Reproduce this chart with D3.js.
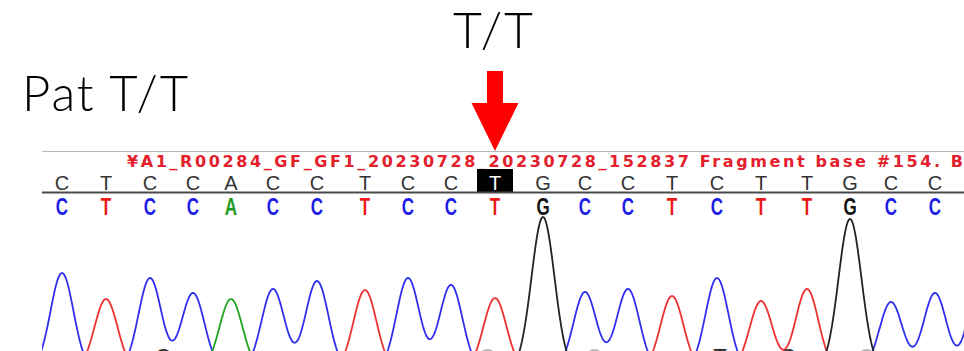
<!DOCTYPE html>
<html>
<head>
<meta charset="utf-8">
<script src="https://cdn.jsdelivr.net/npm/d3@7"></script>
<style>
  body { margin: 0; background: #fff; overflow: hidden; }
  svg { display: block; }
</style>
</head>
<body>
<svg id="chart" width="964" height="351"></svg>
<script>
// Base calls and their peak locations (scan units) with peak signal heights
const bases       = ["C","T","C","C","A","C","C","T","C","C","T","G","C","C","T","C","T","T","G","C","C","C"];
const peakScans   = [10, 32, 54, 75.5, 94.5, 115.5, 137.5, 161.5, 183, 204.5, 226.5, 250.5, 271.5, 293, 315, 337.5, 359.5, 382.5, 404, 424.5, 446.5, 469];
const peakHeights = [970, 710, 920, 770, 710, 810, 890, 800, 920, 850, 720, 1530, 780, 810, 740, 920, 690, 810, 1510, 680, 770, 880];
const variantIndex = 10;

// Calls of the following row, only their tops show at the bottom edge
const lowerScans = [60.5, 222.5, 276, 339, 373, 412];
const lowerBases = ["C", "C", "C", "T", "C", "C"];
const lowerTones = ["#333", "#bbb", "#bbb", "#222", "#333", "#bbb"];

const runTitle = "¥A1_R00284_GF_GF1_20230728_20230728_152837 Fragment base #154. Ba";
const titleFitPart = "¥A1_R00284_GF_GF1_20230728_20230728_152837 Fragment base #154.";
const sampleLabel = "Pat T/T";
const genotypeLabel = "T/T";

const traceColors = { A: "#22a322", C: "#2f2ff0", G: "#222222", T: "#ee3030" };
const callColors  = { A: "#1f9a1f", C: "#1c1ce6", G: "#111111", T: "#ee1a1a" };
const peakSigma = 5.75;

const svg = d3.select("#chart");
const W = 964, H = 351;

const x = d3.scaleLinear().domain([0, 461]).range([42, 964]);
const y = d3.scaleLinear().domain([0, 1600]).range([370, 210]);

// Panel clip
svg.append("defs").append("clipPath").attr("id", "panel")
  .append("rect").attr("x", 42).attr("y", 140).attr("width", W - 42).attr("height", H - 140);

const panel = svg.append("g").attr("clip-path", "url(#panel)");

// Frame line above the title
panel.append("line").attr("x1", 42).attr("x2", W).attr("y1", 151.5).attr("y2", 151.5)
  .attr("stroke", "#b8b8b8").attr("stroke-width", 1);

// Run title, spaced so that "#154." ends where the run info wraps
const title = panel.append("text")
  .attr("x", 127).attr("y", 166.5)
  .attr("font-family", "'DejaVu Sans', Verdana, sans-serif")
  .attr("font-weight", "bold").attr("font-size", 16)
  .attr("fill", "#e3202c")
  .text(titleFitPart);
const natural = title.node().getComputedTextLength();
const spacing = (940 - 127 - natural) / (titleFitPart.length - 1);
title.attr("letter-spacing", spacing).text(runTitle);

// Highlight of the variant call
const vx = x(peakScans[variantIndex]);
panel.append("rect").attr("x", vx - 18).attr("y", 169).attr("width", 36).attr("height", 24).attr("fill", "#000");

// Only calls that fall inside the panel get a letter
const shown = bases.map((b, i) => ({ b, i })).filter(d => x(peakScans[d.i]) < W - 6);

// Reference calls row
panel.append("g").selectAll("text").data(shown).join("text")
  .attr("x", d => x(peakScans[d.i]))
  .attr("y", 190)
  .attr("text-anchor", "middle")
  .attr("font-family", "'Liberation Sans', Arial, sans-serif")
  .attr("font-size", 20)
  .attr("fill", d => d.i === variantIndex ? "#fff" : "#333")
  .text(d => d.b);

panel.append("line").attr("x1", 42).attr("x2", W).attr("y1", 192.5).attr("y2", 192.5)
  .attr("stroke", "#4a4a4a").attr("stroke-width", 2);

// Coloured base calls
panel.append("g").selectAll("text").data(shown).join("text")
  .attr("transform", d => `translate(${x(peakScans[d.i])},215) scale(0.74,1)`)
  .attr("text-anchor", "middle")
  .attr("font-family", "'Liberation Sans', Arial, sans-serif")
  .attr("font-weight", "bold")
  .attr("font-size", 23)
  .attr("fill", d => callColors[d.b])
  .text(d => d.b);

// Traces: each channel is the sum of its peaks
const scanGrid = d3.range(-12, 476, 0.5);
const line = d3.line().x(d => x(d[0])).y(d => y(d[1]));
["C", "T", "A", "G"].forEach(ch => {
  const idx = bases.map((b, i) => b === ch ? i : -1).filter(i => i >= 0);
  const pts = scanGrid.map(s => {
    let v = 0;
    idx.forEach(i => {
      const d = s - peakScans[i];
      v += peakHeights[i] * Math.exp(-(d * d) / (2 * peakSigma * peakSigma));
    });
    return [s, v];
  });
  panel.append("path").datum(pts)
    .attr("d", line)
    .attr("fill", "none")
    .attr("stroke", traceColors[ch])
    .attr("stroke-width", 1.8)
    .attr("stroke-linejoin", "round");
});

// Next row of calls, cut off by the bottom edge
panel.append("g").selectAll("text").data(lowerBases).join("text")
  .attr("x", (d, i) => x(lowerScans[i]))
  .attr("y", 364)
  .attr("text-anchor", "middle")
  .attr("font-family", "'Liberation Sans', Arial, sans-serif")
  .attr("font-size", 22)
  .attr("fill", (d, i) => lowerTones[i])
  .text(d => d);

// Arrow pointing to the variant position
const arrow = d3.path();
arrow.moveTo(vx - 8, 71);
arrow.lineTo(vx + 8, 71);
arrow.lineTo(vx + 8, 103);
arrow.lineTo(vx + 23.5, 103);
arrow.lineTo(vx, 151);
arrow.lineTo(vx - 23.5, 103);
arrow.lineTo(vx - 8, 103);
arrow.closePath();
svg.append("path").attr("d", arrow.toString()).attr("fill", "#ff0000");

// Labels in a light face
const labelFont = "Lato, 'Noto Sans', sans-serif";
svg.append("text")
  .attr("x", 453).attr("y", 48)
  .attr("font-family", labelFont).attr("font-weight", 300).attr("font-size", 50)
  .attr("textLength", 80).attr("lengthAdjust", "spacing")
  .attr("fill", "#000")
  .text(genotypeLabel);

svg.append("text")
  .attr("x", 22).attr("y", 111)
  .attr("font-family", labelFont).attr("font-weight", 300).attr("font-size", 49)
  .attr("textLength", 166).attr("lengthAdjust", "spacing")
  .attr("fill", "#000")
  .text(sampleLabel);
</script>
</body>
</html>
